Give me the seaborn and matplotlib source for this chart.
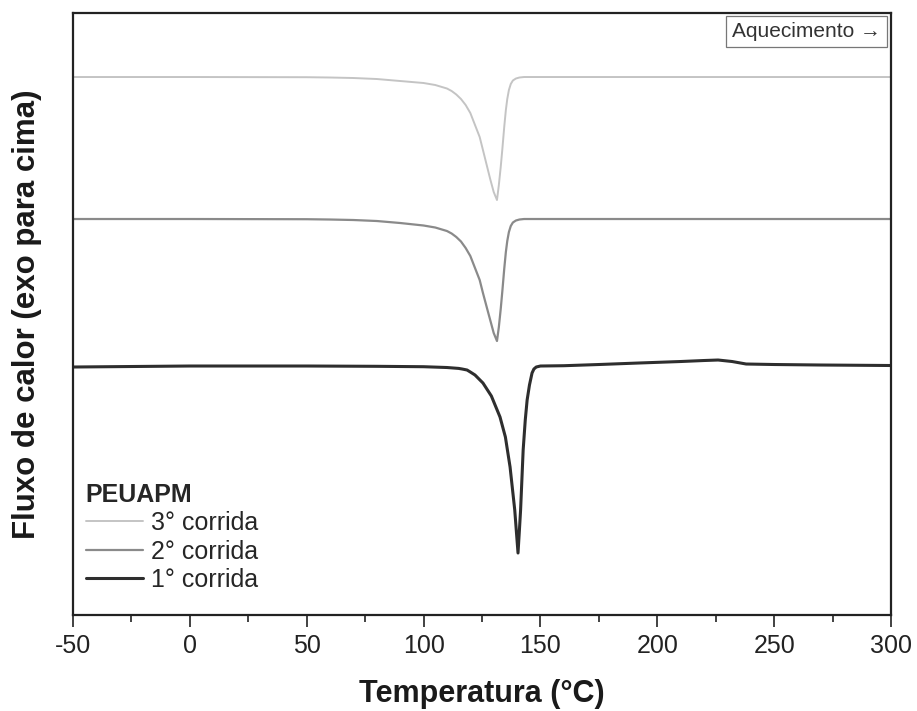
import matplotlib
matplotlib.use("Agg")
import matplotlib.pyplot as plt
from matplotlib.ticker import MultipleLocator
import numpy as np
import pandas as pd
import seaborn as sns

# DSC heating curves of PEUAPM (heat flow, exo up, curves stacked with offsets)
temp_3 = [-50, 0, 50, 60, 70, 80, 90, 100, 105, 110, 112, 114, 116, 118, 120,
          122, 124, 125.4, 127, 128.5, 130, 131.4, 132.2, 133, 133.7, 134.5,
          135.2, 135.8, 136.5, 137.3, 138.2, 139.5, 141, 143, 150, 200, 250, 300]
flow_3 = [5.38, 5.38, 5.378, 5.375, 5.37, 5.36, 5.34, 5.32, 5.30, 5.265, 5.24,
          5.205, 5.16, 5.10, 5.02, 4.90, 4.78, 4.65, 4.50, 4.36, 4.23, 4.15,
          4.30, 4.48, 4.66, 4.88, 5.05, 5.16, 5.25, 5.31, 5.345, 5.365, 5.375,
          5.38, 5.38, 5.38, 5.38, 5.38]

temp_2 = [-50, 0, 50, 60, 70, 80, 90, 100, 105, 110, 112, 114, 116, 118, 120,
          122, 124, 125.4, 127, 128.5, 130, 131.4, 132.2, 133, 133.7, 134.5,
          135.2, 135.8, 136.5, 137.3, 138.2, 139.5, 141, 143, 150, 200, 250, 300]
flow_2 = [3.96, 3.96, 3.958, 3.955, 3.95, 3.94, 3.92, 3.895, 3.875, 3.84,
          3.815, 3.78, 3.735, 3.67, 3.59, 3.47, 3.35, 3.22, 3.08, 2.95, 2.82,
          2.74, 2.88, 3.06, 3.24, 3.46, 3.63, 3.74, 3.83, 3.89, 3.925, 3.945,
          3.955, 3.96, 3.96, 3.96, 3.96, 3.96]

temp_1 = [-50, 0, 50, 80, 100, 110, 115, 116.5, 118.6, 120, 122, 125.4, 129,
          132.7, 135, 137, 139, 140.4, 141, 141.5, 142.6, 143.5, 144.3, 145.3,
          146.4, 147.2, 148.2, 150, 160, 175, 192, 210, 220, 226, 232, 238,
          250, 270, 300]
flow_1 = [2.48, 2.49, 2.49, 2.487, 2.483, 2.475, 2.466, 2.46, 2.45, 2.43, 2.40,
          2.32, 2.19, 1.98, 1.78, 1.48, 1.05, 0.62, 0.85, 1.05, 1.65, 1.95,
          2.15, 2.30, 2.42, 2.46, 2.48, 2.49, 2.493, 2.505, 2.52, 2.535, 2.545,
          2.55, 2.535, 2.51, 2.505, 2.50, 2.495]

run_labels = ["3° corrida", "2° corrida", "1° corrida"]
run_colors = ["#c4c4c4", "#8a8a8a", "#2e2e2e"]
run_widths = [1.4, 1.6, 2.2]

sns.set_theme(style="white")
plt.rcParams["font.family"] = ["Liberation Sans", "DejaVu Sans"]
plt.rcParams["axes.unicode_minus"] = False
plt.rcParams["lines.solid_joinstyle"] = "round"

fig = plt.figure(figsize=(9.17, 7.11), dpi=100)
ax = fig.add_axes([0.0796, 0.135, 0.8921, 0.8467])

runs = [(temp_3, flow_3), (temp_2, flow_2), (temp_1, flow_1)]
for (t, f), lab, col, lw in zip(runs, run_labels, run_colors, run_widths):
    df = pd.DataFrame({"Temperatura": t, "Fluxo": f})
    sns.lineplot(data=df, x="Temperatura", y="Fluxo", ax=ax, sort=False,
                 color=col, linewidth=lw, label=lab)

ax.set_xlim(-50, 300)
ax.set_ylim(0, 6.02)
ax.xaxis.set_major_locator(MultipleLocator(50))
ax.xaxis.set_minor_locator(MultipleLocator(25))
ax.set_yticks([])
ax.tick_params(axis="x", which="major", direction="out", length=8.5, width=1.2,
               color="#222222", labelcolor="#222222", labelsize=18, pad=5,
               bottom=True)
ax.tick_params(axis="x", which="minor", direction="out", length=5, width=1.2,
               color="#222222", bottom=True)
for sp in ax.spines.values():
    sp.set_visible(True)
    sp.set_color("#222222")
    sp.set_linewidth(1.6)

ax.set_xlabel("Temperatura (°C)", fontsize=22, fontweight="bold", labelpad=15,
              color="#1a1a1a")
ax.set_ylabel("Fluxo de calor (exo para cima)", fontsize=22.5,
              fontweight="bold", labelpad=22, color="#1a1a1a")

leg = ax.legend(title="PEUAPM", loc="lower left", frameon=False, fontsize=18,
                title_fontproperties={"weight": "bold", "size": 18},
                handlelength=2.3, handletextpad=0.3, labelspacing=0.18,
                borderaxespad=0.3, bbox_to_anchor=(-0.006, 0.009))
leg._legend_box.align = "left"

ax.text(0.988, 0.985, "Aquecimento →", transform=ax.transAxes, ha="right",
        va="top", fontsize=15, color="#333333",
        bbox=dict(boxstyle="square,pad=0.3", facecolor="white",
                  edgecolor="#777777", linewidth=0.9))

fig.savefig("out.png", dpi=100, facecolor="white")
